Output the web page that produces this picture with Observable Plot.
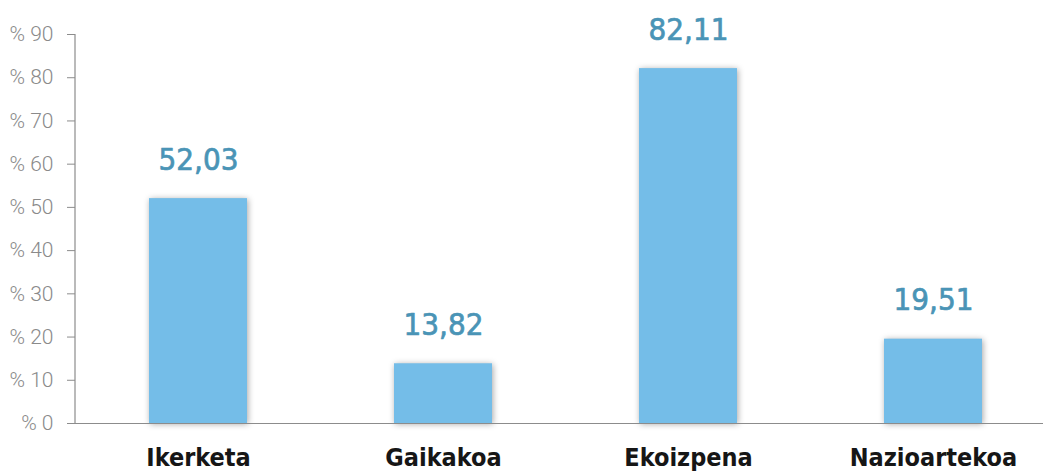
<!DOCTYPE html>
<html>
<head>
<meta charset="utf-8">
<script src="https://cdn.jsdelivr.net/npm/d3@7"></script>
<script src="https://cdn.jsdelivr.net/npm/@observablehq/plot@0.6"></script>
<style>
  html, body { margin: 0; padding: 0; background: #fff; }
  #chart svg { display: block; }
  #chart svg g[aria-label="text"] text,
  #chart svg g[aria-label="x-axis tick label"] text { font-stretch: condensed; }
</style>
</head>
<body>
<div id="chart"></div>
<script>
const categories = ["Ikerketa", "Gaikakoa", "Ekoizpena", "Nazioartekoa"];
const values = [52.03, 13.82, 82.11, 19.51];
const yTicks = [0, 10, 20, 30, 40, 50, 60, 70, 80, 90];

const data = categories.map((c, i) => ({category: c, value: values[i]}));
const fmt = v => v.toFixed(2).replace(".", ",");
const condensed = "'DejaVu Sans', sans-serif";

const chart = Plot.plot({
  width: 1043,
  height: 475,
  marginLeft: 75,
  marginRight: 0,
  marginTop: 34,
  marginBottom: 52,
  style: {background: "#fff"},
  x: {domain: categories, range: [75, 1055], paddingInner: 0.6, paddingOuter: 0.3},
  y: {domain: [0, 90], ticks: yTicks},
  marks: [
    Plot.barY(data, {x: "category", y: "value", fill: "#74bde8"}),
    Plot.ruleY([0], {stroke: "#8c8c8c", strokeWidth: 1.2}),
    Plot.axisY({ticks: yTicks, tickSize: 8, tickPadding: 14, tickFormat: d => "% " + d,
      fontSize: 21, fontWeight: 300, fontFamily: "Roboto, sans-serif", fill: "#8a8a8a", stroke: "#8c8c8c", label: null}),
    Plot.axisX({tickSize: 0, tickPadding: 25, fontSize: 25, fontWeight: "bold",
      fontFamily: condensed, fill: "#161616", label: null}),
    Plot.text(data, {x: "category", y: "value", text: d => fmt(d.value), dy: -29, lineAnchor: "bottom",
      fontSize: 31, fontWeight: "normal", fontFamily: condensed, fill: "#4a94b6",
      stroke: "#4a94b6", strokeWidth: 0.7})
  ]
});

// y-axis domain line, positioned with the chart's own y scale
const ys = chart.scale("y");
d3.select(chart).append("line")
  .attr("x1", 75).attr("x2", 75)
  .attr("y1", ys.apply(0)).attr("y2", ys.apply(90))
  .attr("stroke", "#8c8c8c").attr("stroke-width", 1.2);

d3.select(chart).selectAll("g[aria-label='bar'] rect")
  .style("filter", "drop-shadow(1px 1px 3px rgba(0,0,0,0.35))");

document.getElementById("chart").append(chart);
</script>
</body>
</html>
